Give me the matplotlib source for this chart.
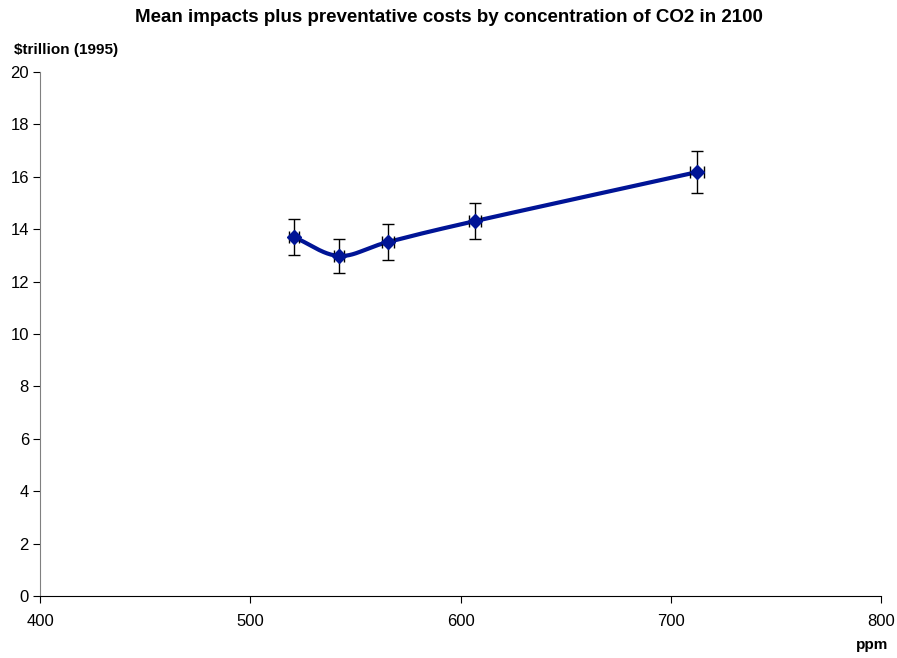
import matplotlib
matplotlib.use('Agg')
import matplotlib.pyplot as plt
import numpy as np

plt.rcParams['font.family'] = ['Liberation Sans', 'DejaVu Sans']

# Data
ppm = [520.8, 542.2, 565.5, 606.9, 712.5]
cost = [13.70, 12.98, 13.51, 14.31, 16.18]
cost_err = [0.69, 0.65, 0.70, 0.70, 0.80]
ppm_err = [2.5, 2.5, 3.0, 3.0, 3.3]


def smooth_curve(x, y, n=40):
    # Catmull-Rom style smoothing like Excel's "smoothed line"
    x = np.asarray(x, float)
    y = np.asarray(y, float)
    sx, sy = 841 / 400.0, 524 / 20.0  # work in pixel-ish space
    px, py = x * sx, y * sy
    px = np.concatenate([[2 * px[0] - px[1]], px, [2 * px[-1] - px[-2]]])
    py = np.concatenate([[2 * py[0] - py[1]], py, [2 * py[-1] - py[-2]]])
    ox, oy = [], []
    t = np.linspace(0, 1, n)
    for i in range(1, len(px) - 2):
        p0, p1, p2, p3 = [np.array([px[j], py[j]]) for j in (i - 1, i, i + 1, i + 2)]
        c1 = p1 + (p2 - p0) / 6.0
        c2 = p2 - (p3 - p1) / 6.0
        pts = ((1 - t) ** 3)[:, None] * p1 + (3 * (1 - t) ** 2 * t)[:, None] * c1 \
            + (3 * (1 - t) * t ** 2)[:, None] * c2 + (t ** 3)[:, None] * p2
        ox.extend(pts[:, 0])
        oy.extend(pts[:, 1])
    return np.array(ox) / sx, np.array(oy) / sy


fig = plt.figure(figsize=(8.97, 6.58), dpi=100)
ax = fig.add_axes([40 / 897, 62 / 658, 841 / 897, 524 / 658])

line_color = '#001496'
cx, cy = smooth_curve(ppm, cost)
ax.plot(cx, cy, color=line_color, linewidth=3, solid_capstyle='round', zorder=2)
ax.errorbar(ppm, cost, yerr=cost_err, xerr=ppm_err, fmt='none',
            ecolor='black', elinewidth=1, capsize=4, capthick=1, zorder=3)
ax.plot(ppm, cost, linestyle='none', marker='D', markersize=7.5,
        color=line_color, markeredgecolor=line_color, zorder=4)

ax.set_xlim(400, 800)
ax.set_ylim(0, 20)
ax.set_xticks(range(400, 801, 100))
ax.set_yticks(range(0, 21, 2))
for s in ['top', 'right']:
    ax.spines[s].set_visible(False)
ax.spines['left'].set_color('#808080')
ax.spines['bottom'].set_color('black')
ax.tick_params(direction='out', length=5, labelsize=12)
ax.tick_params(axis='x', pad=8)
ax.tick_params(axis='y', pad=3)

fig.text(0.5, 1 - 17 / 658, 'Mean impacts plus preventative costs by concentration of CO2 in 2100',
         ha='center', va='center', fontsize=13.5, fontweight='bold')
fig.text(14 / 897, 1 - 50 / 658, r'\$trillion (1995)', ha='left', va='center',
         fontsize=11, fontweight='bold')
fig.text(888 / 897, 1 - 645 / 658, 'ppm', ha='right', va='center',
         fontsize=11, fontweight='bold')

plt.savefig('out.png', dpi=100)
plt.close()
